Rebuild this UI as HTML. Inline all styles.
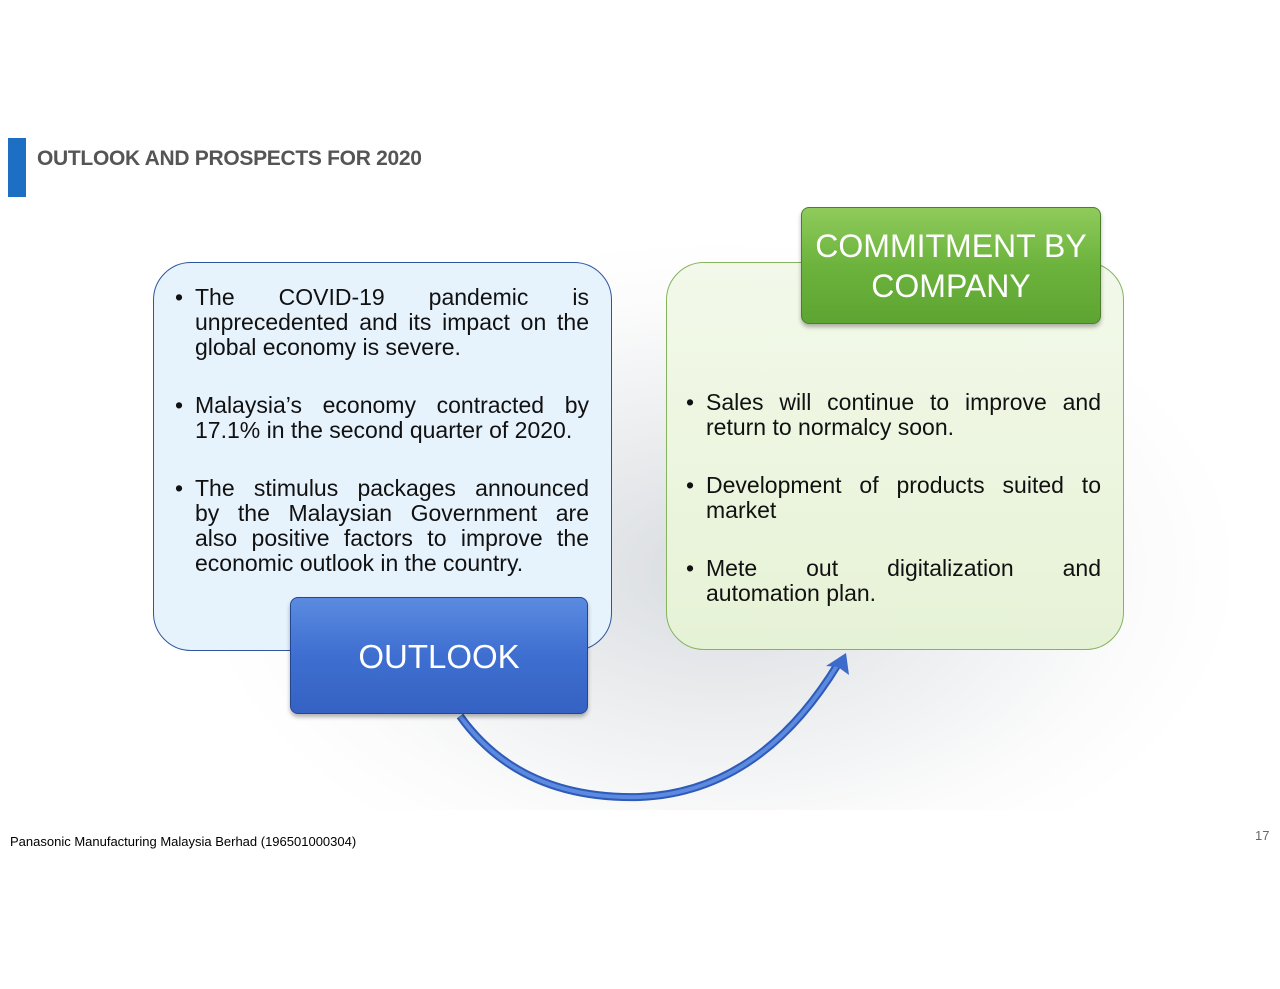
<!DOCTYPE html>
<html><head><meta charset="utf-8"><style>
body{margin:0;width:1280px;height:989px;overflow:hidden;background:#fff;font-family:"Liberation Sans",Arial,sans-serif;position:relative}
.bg{position:absolute;left:0;top:130px;width:1280px;height:680px;background:radial-gradient(ellipse 520px 330px at 720px 440px,#d9dcdf 0%,#eceef0 45%,#fbfbfb 80%,#fff 100%)}
.bar{position:absolute;left:8px;top:138px;width:18px;height:59px;background:#1d6fc4}
.title{position:absolute;left:37px;top:147px;font-size:21px;font-weight:bold;color:#555;letter-spacing:-0.3px}
.box{position:absolute;border-radius:38px;box-sizing:border-box}
.lb{left:153px;top:262px;width:459px;height:389px;background:#e6f2fc;border:1.5px solid #2f55a0}
.rb{left:666px;top:262px;width:458px;height:388px;background:linear-gradient(#f3f9ea,#e6f2d6);border:1.5px solid #86b35e}
.txt{position:absolute;font-size:23px;line-height:25px;color:#111}
.it{position:relative;margin-bottom:33px}
.it:before{content:"•";position:absolute;left:-20px;top:0}
.j{text-align:justify;text-align-last:justify;white-space:nowrap}
.l{white-space:nowrap}
.btn{position:absolute;border-radius:8px;color:#fff;text-align:center;box-sizing:border-box}
.ob{left:290px;top:597px;width:298px;height:117px;background:linear-gradient(#5b8be0,#3e6fd0 50%,#3562c3);border:1.5px solid #24468e;font-size:33px;line-height:117px;box-shadow:0 3px 4px rgba(0,0,0,.3)}
.cb{left:801px;top:207px;width:300px;height:117px;background:linear-gradient(#8fcb5c,#6cb33d 50%,#5ea432);border:1.5px solid #4b7f2a;font-size:32px;line-height:40px;padding-top:18px;box-shadow:0 3px 4px rgba(0,0,0,.3)}
.wm{position:absolute;left:122px;top:430px;transform:rotate(-90deg);transform-origin:0 0;font-size:44px;font-weight:bold;color:rgba(255,255,255,.7)}
.foot{position:absolute;left:10px;top:834px;font-size:13px;color:#000}
.pg{position:absolute;left:1255px;top:828px;font-size:13px;color:#666}
</style></head><body>
<div class="bg"></div>
<div class="bar"></div>
<div class="title">OUTLOOK AND PROSPECTS FOR 2020</div>
<div class="wm">OUTLOOK</div>
<div class="box lb"></div>
<div class="box rb"></div>
<div class="txt" style="left:195px;top:285px;width:394px">
<div class="it"><div class="j">The COVID-19 pandemic is</div><div class="j">unprecedented and its impact on the</div><div class="l">global economy is severe.</div></div>
<div class="it"><div class="j">Malaysia’s economy contracted by</div><div class="l">17.1% in the second quarter of 2020.</div></div>
<div class="it"><div class="j">The stimulus packages announced</div><div class="j">by the Malaysian Government are</div><div class="j">also positive factors to improve the</div><div class="l">economic outlook in the country.</div></div>
</div>
<div class="txt" style="left:706px;top:390px;width:395px">
<div class="it"><div class="j">Sales will continue to improve and</div><div class="l">return to normalcy soon.</div></div>
<div class="it"><div class="j">Development of products suited to</div><div class="l">market</div></div>
<div class="it"><div class="j">Mete out digitalization and</div><div class="l">automation plan.</div></div>
</div>
<svg style="position:absolute;left:0;top:0" width="1280" height="989">
<path d="M460 716 Q520 800 640 797 Q760 792 838 664" fill="none" stroke="#2f5bb8" stroke-width="8"/>
<path d="M460 716 Q520 800 640 797 Q760 792 838 664" fill="none" stroke="#5b8ae0" stroke-width="4"/>
<polygon points="846,653 849,675 838,667 826,666" fill="#3c6bcc"/>
</svg>
<div class="btn ob">OUTLOOK</div>
<div class="btn cb">COMMITMENT BY<br>COMPANY</div>
<div class="foot">Panasonic Manufacturing Malaysia Berhad (196501000304)</div>
<div class="pg">17</div>
</body></html>
